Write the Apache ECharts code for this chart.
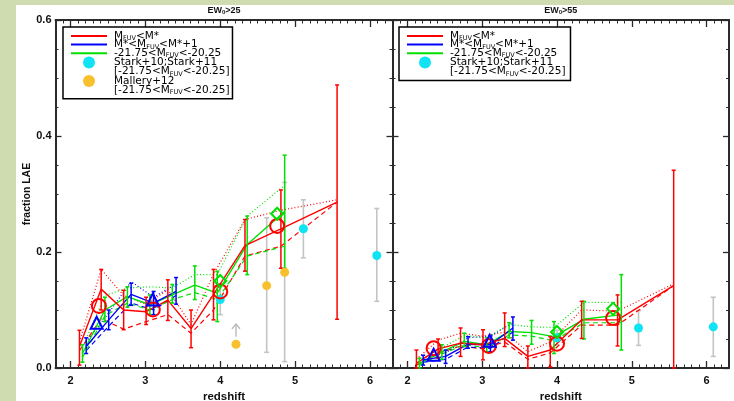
<!DOCTYPE html>
<html><head><meta charset="utf-8">
<script src="https://cdn.jsdelivr.net/npm/echarts@6/dist/echarts.min.js"></script>
<style>
html,body{margin:0;padding:0;width:734px;height:401px;overflow:hidden;background:#cfdcb0;}
#paper{position:absolute;left:16px;top:5px;right:0;bottom:0;background:#fff;}
#chart{position:absolute;left:0;top:0;width:734px;height:401px;}
</style></head><body>
<div id="paper"></div><div id="chart"></div>
<script>
// ---------- redshift positions of each sample ----------
const zRed   = [2.12, 2.41, 2.71, 3.01, 3.30, 3.61, 3.91, 4.33, 4.81, 5.56];
const zBlue  = [2.21, 2.51, 2.81, 3.11, 3.41];
const zGreen = [2.16, 2.46, 2.76, 3.06, 3.36, 3.66, 3.96, 4.36, 4.86];

// ---------- left panel: EW0 > 25 ----------
const L_redSolid = [0.037, 0.136, 0.100, 0.097, 0.117, 0.068, 0.127, 0.211, 0.240, 0.286];
const L_redDot   = [0.045, 0.170, 0.125, 0.110, 0.135, 0.075, 0.162, 0.256, 0.272, 0.290];
const L_redDash  = [0.030, 0.085, 0.067, 0.080, 0.092, 0.060, 0.100, 0.193, 0.210, 0.286];
const L_redLo    = [0.005, 0.100, 0.066, 0.075, 0.082, 0.035, 0.083, 0.167, 0.172, 0.084];
const L_redHi    = [0.065, 0.170, 0.134, 0.122, 0.152, 0.100, 0.170, 0.256, 0.307, 0.488];

const L_blueSolid = [0.037, 0.083, 0.127, 0.112, 0.132];
const L_blueDot   = [0.045, 0.095, 0.149, 0.122, 0.145];
const L_blueDash  = [0.030, 0.072, 0.112, 0.100, 0.125];
const L_blueLo    = [0.025, 0.066, 0.108, 0.092, 0.110];
const L_blueHi    = [0.052, 0.100, 0.146, 0.132, 0.156];

const L_greenSolid = [0.025, 0.100, 0.123, 0.109, 0.126, 0.143, 0.129, 0.213, 0.270];
const L_greenDot   = [0.035, 0.125, 0.138, 0.140, 0.138, 0.161, 0.161, 0.262, 0.315];
const L_greenDash  = [0.018, 0.090, 0.112, 0.100, 0.118, 0.130, 0.118, 0.193, 0.210];
const L_greenLo    = [0.010, 0.080, 0.105, 0.092, 0.112, 0.118, 0.080, 0.161, 0.172];
const L_greenHi    = [0.040, 0.122, 0.140, 0.126, 0.144, 0.176, 0.167, 0.262, 0.367];

const L_circZ = [2.38, 3.10, 4.00, 4.76], L_circF = [0.107, 0.101, 0.132, 0.245];
const L_triZ  = [2.35, 3.10],             L_triF  = [0.078, 0.118];
const L_diaZ  = [4.00, 4.76],             L_diaF  = [0.150, 0.266];

const L_starkZ = [4.00, 5.11, 6.09], L_starkF = [0.118, 0.240, 0.194];
const L_starkLo = [0.092, 0.190, 0.115], L_starkHi = [0.145, 0.290, 0.275];
const L_mallZ = [4.21, 4.62, 4.86], L_mallF = [0.041, 0.142, 0.165];
const L_mallErrZ = [4.62, 4.86], L_mallLo = [0.027, 0.011], L_mallHi = [0.259, 0.320];
const L_limZ = [4.21], L_limFrom = [0.054], L_limTo = [0.076];

// ---------- right panel: EW0 > 55 ----------
const R_redSolid = [0.008, 0.033, 0.043, 0.040, 0.051, 0.020, 0.031, 0.083, 0.083, 0.142];
const R_redDot   = [0.015, 0.048, 0.060, 0.055, 0.062, 0.028, 0.045, 0.100, 0.098, 0.145];
const R_redDash  = [0.005, 0.025, 0.038, 0.033, 0.045, 0.015, 0.026, 0.074, 0.074, 0.142];
const R_redLo    = [0.000, 0.017, 0.020, 0.014, 0.037, 0.000, 0.002, 0.051, 0.038, 0.000];
const R_redHi    = [0.031, 0.050, 0.069, 0.066, 0.095, 0.038, 0.054, 0.115, 0.126, 0.341];

const R_blueSolid = [0.014, 0.020, 0.041, 0.040, 0.069];
const R_blueDot   = [0.018, 0.026, 0.052, 0.055, 0.078];
const R_blueDash  = [0.010, 0.015, 0.036, 0.034, 0.062];
const R_blueLo    = [0.005, 0.008, 0.034, 0.028, 0.048];
const R_blueHi    = [0.022, 0.031, 0.054, 0.055, 0.088];

const R_greenSolid = [0.008, 0.028, 0.046, 0.040, 0.063, 0.061, 0.054, 0.084, 0.092];
const R_greenDot   = [0.012, 0.035, 0.056, 0.052, 0.075, 0.071, 0.070, 0.113, 0.113];
const R_greenDash  = [0.005, 0.024, 0.040, 0.035, 0.057, 0.055, 0.047, 0.078, 0.078];
const R_greenLo    = [0.000, 0.015, 0.037, 0.028, 0.052, 0.041, 0.025, 0.050, 0.031];
const R_greenHi    = [0.017, 0.040, 0.060, 0.052, 0.078, 0.082, 0.080, 0.115, 0.161];

const R_circZ = [2.35, 3.09, 4.00, 4.75], R_circF = [0.034, 0.038, 0.042, 0.086];
const R_triZ  = [2.35, 3.10],             R_triF  = [0.023, 0.047];
const R_diaZ  = [4.00, 4.75],             R_diaF  = [0.062, 0.102];

const R_starkZ = [4.00, 5.09, 6.09], R_starkF = [0.052, 0.069, 0.071];
const R_starkLo = [0.040, 0.039, 0.020], R_starkHi = [0.065, 0.099, 0.122];

// ---------- axis tick labels ----------
const xTickLabels = [2, 3, 4, 5, 6];
const panelTitles = ['25', '55'];

// ---------- styling ----------
const RED = '#ff0000', BLUE = '#0000ff', GREEN = '#00e000', CYAN = '#10e4f4', ORANGE = '#f9c02e', GRAY = '#c4c4c4';
const AX = '#2a2a2a';
const DOT = [1, 2.2], DASH = [5, 3.5];

const xMinor = [];
for (let k = 19; k < 63; k++) if (k % 10) xMinor.push(k / 10);

const zip = (xs, ys) => xs.map((x, i) => [x, ys[i]]);
const zip3 = (xs, a, b) => xs.map((x, i) => [x, a[i], b[i]]);

function errRender(color, w, cap) {
  return function (params, api) {
    const x = api.value(0);
    const a = api.coord([x, api.value(1)]);
    const b = api.coord([x, api.value(2)]);
    const st = { stroke: color, lineWidth: w };
    return { type: 'group', children: [
      { type: 'line', shape: { x1: a[0], y1: a[1], x2: b[0], y2: b[1] }, style: st },
      { type: 'line', shape: { x1: a[0] - cap, y1: a[1], x2: a[0] + cap, y2: a[1] }, style: st },
      { type: 'line', shape: { x1: b[0] - cap, y1: b[1], x2: b[0] + cap, y2: b[1] }, style: st }
    ]};
  };
}
function arrowRender(params, api) {
  const x = api.value(0);
  const a = api.coord([x, api.value(1)]);
  const b = api.coord([x, api.value(2)]);
  const st = { stroke: '#b4b4b4', lineWidth: 1.3, fill: null };
  return { type: 'group', children: [
    { type: 'line', shape: { x1: a[0], y1: a[1], x2: b[0], y2: b[1] }, style: st },
    { type: 'polyline', shape: { points: [[b[0] - 4, b[1] + 5], [b[0], b[1]], [b[0] + 4, b[1] + 5]] }, style: st }
  ]};
}

const lbl = { fontFamily: 'Liberation Sans', fontWeight: 'bold', color: '#111' };

function xAxes(g, title) {
  const base = { type: 'value', gridIndex: g, min: 1.8, max: 6.3, splitLine: { show: false } };
  const line = { show: true, onZero: false, lineStyle: { color: AX, width: 2 } };
  const maj = { show: true, inside: true, length: 7, customValues: xTickLabels, lineStyle: { color: AX, width: 1.3 } };
  const mnr = { show: true, inside: true, length: 3.5, customValues: xMinor, lineStyle: { color: AX, width: 1 } };
  return [
    Object.assign({}, base, { position: 'bottom', axisLine: line, axisTick: maj,
      axisLabel: Object.assign({ show: true, customValues: xTickLabels, margin: 7, fontSize: 11 }, lbl),
      name: 'redshift', nameLocation: 'middle', nameGap: 19,
      nameTextStyle: Object.assign({ fontSize: 11.5 }, lbl) }),
    Object.assign({}, base, { position: 'bottom', axisLine: { show: false, onZero: false }, axisTick: mnr, axisLabel: { show: false } }),
    Object.assign({}, base, { position: 'top', axisLine: line, axisTick: maj, axisLabel: { show: false },
      name: '{a|EW}{b|0}{a|>' + title + '}', nameLocation: 'middle', nameGap: 5,
      nameTextStyle: { rich: {
        a: Object.assign({ fontSize: 9 }, lbl),
        b: Object.assign({ fontSize: 6, verticalAlign: 'bottom', padding: [0, 0, 0, 0] }, lbl)
      } } }),
    Object.assign({}, base, { position: 'top', axisLine: { show: false, onZero: false }, axisTick: mnr, axisLabel: { show: false } })
  ];
}
function yAxes(g, showLabel) {
  const base = { type: 'value', gridIndex: g, min: 0, max: 0.6, interval: 0.2, splitLine: { show: false },
    axisLine: { show: true, onZero: false, lineStyle: { color: AX, width: 2 } },
    axisTick: { show: true, inside: true, length: 6, lineStyle: { color: AX, width: 1.3 } },
    minorTick: { show: true, splitNumber: 4, length: 3, lineStyle: { color: AX, width: 1 } } };
  return [
    Object.assign({}, base, { position: 'left',
      axisLabel: Object.assign({ show: showLabel, margin: 4, fontSize: 11, formatter: v => v.toFixed(1) }, lbl),
      name: showLabel ? 'fraction LAE' : '', nameLocation: 'middle', nameGap: 19,
      nameTextStyle: Object.assign({ fontSize: 10.5 }, lbl) }),
    Object.assign({}, base, { position: 'right', axisLabel: { show: false } })
  ];
}

function panelSeries(p, d) {
  const xi = p * 4, yi = p * 2;
  const S = [];
  const line = (name, xs, ys, color, type, w) => S.push({ type: 'line', name, xAxisIndex: xi, yAxisIndex: yi,
    data: zip(xs, ys), symbol: 'none', silent: true, z: 2,
    lineStyle: { color, width: w, type }, itemStyle: { color } });
  const err = (name, xs, lo, hi, color, w, cap, z) => S.push({ type: 'custom', name, xAxisIndex: xi, yAxisIndex: yi,
    data: zip3(xs, lo, hi), encode: { x: 0, y: [1, 2] }, renderItem: errRender(color, w, cap), silent: true, z: z || 3 });
  const mark = (name, xs, ys, symbol, size, color, filled, z) => S.push({ type: 'scatter', name, xAxisIndex: xi, yAxisIndex: yi,
    data: zip(xs, ys), symbol, symbolSize: size, silent: true, z: z || 5,
    itemStyle: filled ? { color, opacity: 1 } : { color: 'rgba(0,0,0,0)', borderColor: color, borderWidth: 2, opacity: 1 } });

  line('red-dot', zRed, d.redDot, RED, DOT, 1.2);
  line('red-dash', zRed, d.redDash, RED, DASH, 1.2);
  line('blue-dot', zBlue, d.blueDot, BLUE, DOT, 1.2);
  line('blue-dash', zBlue, d.blueDash, BLUE, DASH, 1.2);
  line('green-dot', zGreen, d.greenDot, GREEN, DOT, 1.2);
  line('green-dash', zGreen, d.greenDash, GREEN, DASH, 1.2);
  line('green', zGreen, d.greenSolid, GREEN, 'solid', 1.4);
  line('blue', zBlue, d.blueSolid, BLUE, 'solid', 1.4);
  line('red', zRed, d.redSolid, RED, 'solid', 1.4);
  err('gerr', zGreen, d.greenLo, d.greenHi, GREEN, 1.5, 2);
  err('berr', zBlue, d.blueLo, d.blueHi, BLUE, 1.5, 2);
  err('rerr', zRed, d.redLo, d.redHi, RED, 1.5, 2);
  err('serr', d.starkZ, d.starkLo, d.starkHi, GRAY, 1.6, 2.5, 2);
  if (d.mallZ) {
    err('merr', d.mallErrZ, d.mallLo, d.mallHi, GRAY, 1.6, 2.5, 2);
    S.push({ type: 'custom', name: 'limit', xAxisIndex: xi, yAxisIndex: yi, data: zip3(d.limZ, d.limFrom, d.limTo),
      encode: { x: 0, y: [1, 2] }, renderItem: arrowRender, silent: true, z: 2 });
    mark('mallery', d.mallZ, d.mallF, 'circle', 9, ORANGE, true, 6);
  }
  mark('stark', d.starkZ, d.starkF, 'circle', 9, CYAN, true, 6);
  mark('circ', d.circZ, d.circF, 'circle', 14, RED, false, 7);
  mark('tri', d.triZ, d.triF, 'triangle', [12, 12], BLUE, false, 7);
  mark('dia', d.diaZ, d.diaF, 'diamond', [12, 12], GREEN, false, 7);
  return S;
}

const left = { redSolid: L_redSolid, redDot: L_redDot, redDash: L_redDash, redLo: L_redLo, redHi: L_redHi,
  blueSolid: L_blueSolid, blueDot: L_blueDot, blueDash: L_blueDash, blueLo: L_blueLo, blueHi: L_blueHi,
  greenSolid: L_greenSolid, greenDot: L_greenDot, greenDash: L_greenDash, greenLo: L_greenLo, greenHi: L_greenHi,
  circZ: L_circZ, circF: L_circF, triZ: L_triZ, triF: L_triF, diaZ: L_diaZ, diaF: L_diaF,
  starkZ: L_starkZ, starkF: L_starkF, starkLo: L_starkLo, starkHi: L_starkHi,
  mallZ: L_mallZ, mallF: L_mallF, mallErrZ: L_mallErrZ, mallLo: L_mallLo, mallHi: L_mallHi,
  limZ: L_limZ, limFrom: L_limFrom, limTo: L_limTo };
const right = { redSolid: R_redSolid, redDot: R_redDot, redDash: R_redDash, redLo: R_redLo, redHi: R_redHi,
  blueSolid: R_blueSolid, blueDot: R_blueDot, blueDash: R_blueDash, blueLo: R_blueLo, blueHi: R_blueHi,
  greenSolid: R_greenSolid, greenDot: R_greenDot, greenDash: R_greenDash, greenLo: R_greenLo, greenHi: R_greenHi,
  circZ: R_circZ, circF: R_circF, triZ: R_triZ, triF: R_triF, diaZ: R_diaZ, diaF: R_diaF,
  starkZ: R_starkZ, starkF: R_starkF, starkLo: R_starkLo, starkHi: R_starkHi };

const series = panelSeries(0, left).concat(panelSeries(1, right));
// second text lines of the legend entries
series.push({ type: 'scatter', name: 'starkL2', data: [], itemStyle: { color: 'rgba(0,0,0,0)' } });
series.push({ type: 'scatter', name: 'malleryL2', data: [], itemStyle: { color: 'rgba(0,0,0,0)' } });

const RANGE = '{t|[-21.75<M}{s|FUV}{t|<-20.25]}';
const LEG = {
  red: '{t|M}{s|FUV}{t|<M*}',
  blue: '{t|M*<M}{s|FUV}{t|<M*+1}',
  green: '{t|-21.75<M}{s|FUV}{t|<-20.25}',
  stark: '{t|Stark+10;Stark+11}',
  starkL2: RANGE,
  mallery: '{t|Mallery+12}',
  malleryL2: RANGE
};
const legText = { color: '#000', padding: [0, 0, 0, 2], rich: {
  t: { fontFamily: 'DejaVu Sans', fontSize: 10.5, lineHeight: 12, color: '#000' },
  s: { fontFamily: 'DejaVu Sans', fontSize: 6.5, verticalAlign: 'bottom', color: '#000' }
} };
function legend(leftPx, padRight, names) {
  return { left: leftPx, top: 27, orient: 'vertical', itemWidth: 36, itemHeight: 12, itemGap: -2.8,
    padding: [3.4, padRight, 2.7, 7], borderColor: '#000', borderWidth: 1.5, selectedMode: false,
    data: names.map(n => (n === 'red' || n === 'blue' || n === 'green')
      ? { name: n, itemStyle: { opacity: 0 } } : { name: n, icon: 'circle' }),
    formatter: n => LEG[n], textStyle: legText };
}

const chart = echarts.init(document.getElementById('chart'), null, { renderer: 'canvas' });
chart.setOption({
  animation: false,
  backgroundColor: 'transparent',
  grid: [
    { left: 55.5, top: 20, width: 337, height: 348, outerBoundsMode: 'none', containLabel: false },
    { left: 392.5, top: 20, width: 336.5, height: 348, outerBoundsMode: 'none', containLabel: false }
  ],
  xAxis: xAxes(0, panelTitles[0]).concat(xAxes(1, panelTitles[1])),
  yAxis: yAxes(0, true).concat(yAxes(1, false)),
  legend: [
    legend(63, 3, ['red', 'blue', 'green', 'stark', 'starkL2', 'mallery', 'malleryL2']),
    legend(399, 5, ['red', 'blue', 'green', 'stark', 'starkL2'])
  ],
  series
});
</script></body></html>
